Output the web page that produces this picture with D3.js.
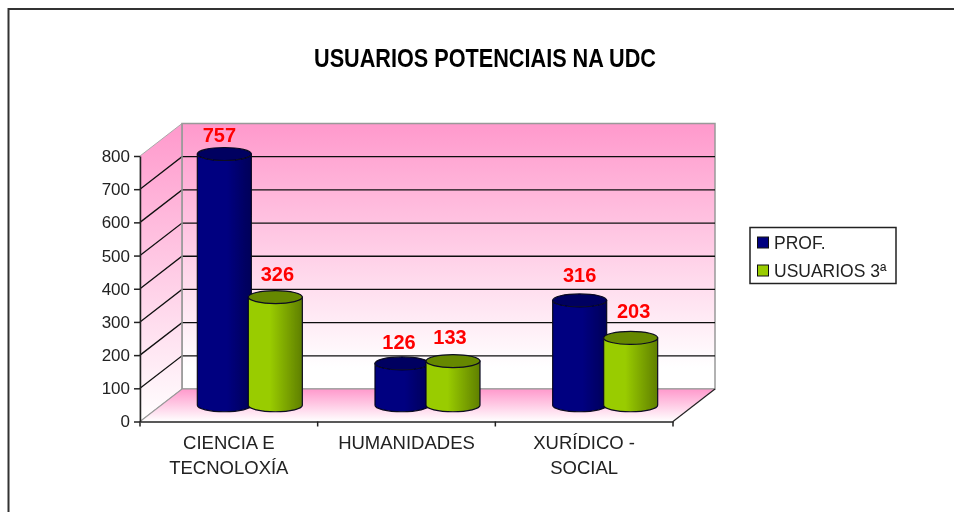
<!DOCTYPE html>
<html><head><meta charset="utf-8">
<script src="https://cdn.jsdelivr.net/npm/d3@7"></script>
<style>
html,body{margin:0;padding:0;background:#fff}
svg{display:block}
text{font-family:"Liberation Sans",Arial,sans-serif}
</style></head><body>
<script>
const title = "USUARIOS POTENCIAIS NA UDC";
const categories = [["CIENCIA E","TECNOLOXÍA"],["HUMANIDADES"],["XURÍDICO -","SOCIAL"]];
const seriesNames = ["PROF.","USUARIOS 3ª"];
const prof = [757,126,316];
const usuarios = [326,133,203];
const yTicks = [0,100,200,300,400,500,600,700,800];

(function(){
const W=954,H=512;
const svg=d3.select("body").append("svg").attr("width",W).attr("height",H);
const defs=svg.append("defs");
function grad(id,x2,y2,stops){
  const g=defs.append("linearGradient").attr("id",id).attr("x1",0).attr("y1",0).attr("x2",x2).attr("y2",y2);
  stops.forEach(s=>g.append("stop").attr("offset",s[0]).attr("stop-color",s[1]));
}
grad("wall",0,1,[[0,"#ff99cc"],[0.92,"#ffffff"],[1,"#ffffff"]]);
grad("side",0,1,[[0,"#ff99cc"],[1,"#ffffff"]]);
grad("floor",0,1,[[0,"#ff99cc"],[1,"#ffffff"]]);
grad("blueBody",1,0,[[0,"#000080"],[0.55,"#000080"],[1,"#000058"]]);
grad("greenBody",1,0,[[0,"#99cc00"],[0.4,"#99cc00"],[1,"#5f7f00"]]);
defs.append("filter").attr("id","soft").attr("x",0).attr("y",0).attr("width",1).attr("height",1)
  .attr("filterUnits","userSpaceOnUse").attr("x",0).attr("y",0).attr("width",W).attr("height",H)
  .append("feGaussianBlur").attr("stdDeviation",0.4);
const root=svg.append("g").attr("filter","url(#soft)");

// frame
root.append("path").attr("d",`M8.5,${H}V9H${W}`).attr("fill","none").attr("stroke","#333").attr("stroke-width",2);

root.append("text").attr("x",485).attr("y",67).attr("text-anchor","middle")
  .attr("font-size",25).attr("font-weight","bold").attr("fill","#000")
  .attr("textLength",342).attr("lengthAdjust","spacingAndGlyphs").text(title);

// scales
const dx=42, dy=-32.5;
const y=d3.scaleLinear().domain([0,800]).range([421.5,156]);
const x=d3.scaleBand().domain(d3.range(categories.length)).range([140,673]);
const left=140,right=673,bottom=y(0),topY=y(800);

// back wall
root.append("rect").attr("x",left+dx).attr("y",topY+dy).attr("width",right-left).attr("height",bottom-topY)
  .attr("fill","url(#wall)").attr("stroke","#999").attr("stroke-width",1.5);
// left wall
root.append("path").attr("d",`M${left},${bottom}L${left+dx},${bottom+dy}V${topY+dy}L${left},${topY}Z`)
  .attr("fill","url(#side)").attr("stroke","#aaa").attr("stroke-width",1);
// floor
root.append("path").attr("d",`M${left},${bottom}L${left+dx},${bottom+dy}H${right+dx}L${right},${bottom}Z`)
  .attr("fill","url(#floor)").attr("stroke","none");
root.append("path").attr("d",`M${left},${bottom}L${left+dx},${bottom+dy}H${right+dx}`)
  .attr("fill","none").attr("stroke","#999").attr("stroke-width",1.2);
root.append("path").attr("d",`M${right},${bottom}L${right+dx},${bottom+dy}`)
  .attr("fill","none").attr("stroke","#222").attr("stroke-width",1.2);

// gridlines (the top of the box stays grey)
yTicks.filter(d=>d>0&&d<800).forEach(d=>{
  root.append("path").attr("d",`M${left},${y(d)}L${left+dx},${y(d)+dy}H${right+dx}`)
    .attr("fill","none").attr("stroke","#111").attr("stroke-width",1.3);
});
root.append("line").attr("x1",left+dx).attr("x2",left+dx).attr("y1",topY+dy).attr("y2",bottom+dy).attr("stroke","#999").attr("stroke-width",1.5);

// axes
const yAxis=d3.axisLeft(y).tickValues(yTicks).tickSize(6).tickSizeOuter(0).tickFormat(d3.format("d"));
const gy=root.append("g").attr("transform",`translate(${left},0)`).call(yAxis);
gy.selectAll("text").attr("font-size",17).attr("fill","#222").attr("x",-10).style("font-family",'"Liberation Sans",Arial,sans-serif');
gy.selectAll("line,path").attr("stroke","#222").attr("stroke-width",1.5);

const xAxis=d3.axisBottom(x).tickValues([]).tickSizeOuter(0);
const gx=root.append("g").attr("transform",`translate(0,${bottom})`).call(xAxis);
gx.select("path").attr("stroke","#222").attr("stroke-width",1.5);
[0,1,2,3].forEach(i=>{
  const px=i<3?x(i):right;
  root.append("line").attr("x1",px).attr("x2",px).attr("y1",bottom).attr("y2",bottom+5).attr("stroke","#222").attr("stroke-width",1.5);
});
categories.forEach((lines,i)=>{
  const cx=x(i)+x.bandwidth()/2;
  lines.forEach((s,j)=>{
    root.append("text").attr("x",cx).attr("y",449+j*25).attr("text-anchor","middle")
      .attr("font-size",18.5).attr("fill","#222").text(s);
  });
});

// cylinders
const rx=27, ry=6.5;
const yBar=d3.scaleLinear().domain([0,800]).range([bottom+dy/2,topY+dy/2]);
function cyl(cx,val,body,topCol){
  const yt=yBar(val),yb=yBar(0);
  const g=root.append("g").attr("stroke","#0a0a20").attr("stroke-width",1.2);
  g.append("path").attr("d",`M${cx-rx},${yt}V${yb}A${rx},${ry} 0 0 0 ${cx+rx},${yb}V${yt}Z`).attr("fill",`url(#${body})`);
  g.append("ellipse").attr("cx",cx).attr("cy",yt).attr("rx",rx).attr("ry",ry).attr("fill",topCol);
}
function label(cx,val,gap){
  root.append("text").attr("x",cx).attr("y",yBar(val)-gap).attr("text-anchor","middle")
    .attr("font-size",20).attr("font-weight","bold").attr("fill","#ff0000").text(val);
}
const centre=i=>x(i)+x.bandwidth()/2+dx/2;
const profNudge=[[-5,12],[-3,14],[0,18]], usuNudge=[[2,16],[-3,17],[3,20]];
categories.forEach((c,i)=>{
  const a=centre(i)-25.5,b=centre(i)+25.5;
  cyl(a,prof[i],"blueBody","#000060");
  cyl(b,usuarios[i],"greenBody","#668800");
  label(a+profNudge[i][0],prof[i],profNudge[i][1]);
  label(b+usuNudge[i][0],usuarios[i],usuNudge[i][1]);
});

// legend
const lg=root.append("g");
lg.append("rect").attr("x",750).attr("y",227.5).attr("width",146).attr("height",56).attr("fill","#fff").attr("stroke","#222").attr("stroke-width",1.5);
seriesNames.forEach((n,i)=>{
  const yy=237+i*28;
  lg.append("rect").attr("x",757.5).attr("y",yy).attr("width",11).attr("height",11)
    .attr("fill",i?"#99cc00":"#000080").attr("stroke","#111");
  lg.append("text").attr("x",774).attr("y",yy+11.5).attr("font-size",17.5).attr("fill","#222").text(n);
});
})();
</script></body></html>
